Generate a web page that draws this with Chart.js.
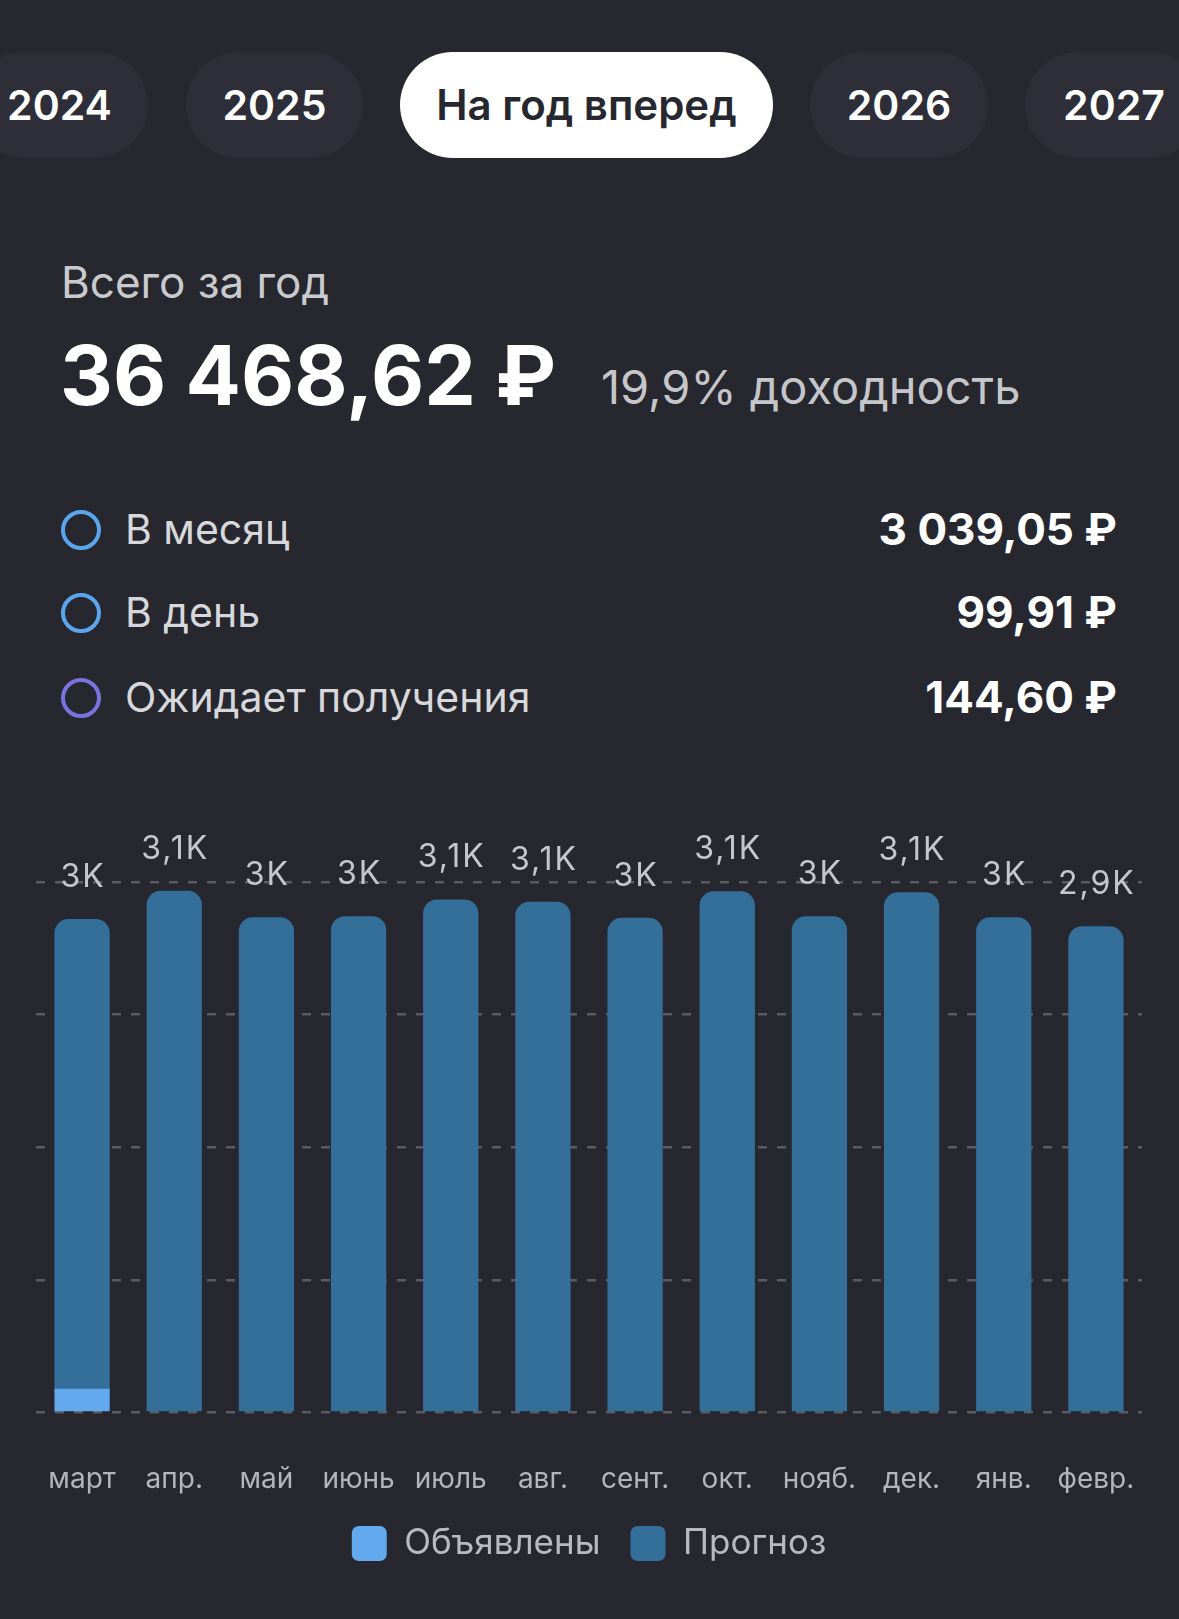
<!DOCTYPE html>
<html lang="ru">
<head>
<meta charset="utf-8">
<title>Доходность</title>
<script src="https://cdn.jsdelivr.net/npm/chart.js@4"></script>
<style>
  html, body {
    margin: 0;
    padding: 0;
    width: 1179px;
    height: 1619px;
    overflow: hidden;
    background: #26272f;
    font-family: Inter, "Noto Sans", sans-serif;
  }
  .abs { position: absolute; white-space: nowrap; }
  .pill {
    position: absolute;
    top: 52px;
    height: 106px;
    line-height: 106px;
    border-radius: 53px;
    background: #2d2e37;
    color: #ffffff;
    font-size: 41px;
    font-weight: 600;
    text-align: center;
  }
  .pill.active { background: #ffffff; color: #26272f; font-size: 42px; }
  .row-text { left: 125px; font-size: 41px; line-height: 41px; color: #d7d8db; }
  .row-val { right: 62px; font-size: 44px; line-height: 44px; font-weight: 700; color: #ffffff; }
  .dot {
    position: absolute;
    left: 61px;
    width: 32px;
    height: 32px;
    border-radius: 50%;
    border: 4px solid #5aa5ec;
  }
  #chartCanvas { position: absolute; left: 0; top: 790px; }
</style>
</head>
<body>

<div class="pill" style="left:-29px;width:177px;">2024</div>
<div class="pill" style="left:186px;width:177px;">2025</div>
<div class="pill active" style="left:400px;width:373px;">На год вперед</div>
<div class="pill" style="left:810px;width:178px;">2026</div>
<div class="pill" style="left:1025px;width:178px;">2027</div>

<div class="abs" style="left:61px;top:260px;font-size:44px;line-height:44px;color:#c9cacd;">Всего за год</div>
<div class="abs" style="left:60px;top:335px;font-size:82px;line-height:82px;font-weight:700;color:#ffffff;">36 468,62 ₽</div>
<div class="abs" style="left:601px;top:363px;font-size:47px;line-height:47px;color:#c5c6ca;">19,9% доходность</div>

<div class="dot" style="top:510px;"></div>
<div class="abs row-text" style="top:509px;">В месяц</div>
<div class="abs row-val" style="top:507px;">3 039,05 ₽</div>

<div class="dot" style="top:593px;"></div>
<div class="abs row-text" style="top:592px;">В день</div>
<div class="abs row-val" style="top:590px;">99,91 ₽</div>

<div class="dot" style="top:678px;border-color:#7b72e0;"></div>
<div class="abs row-text" style="top:677px;">Ожидает получения</div>
<div class="abs row-val" style="top:675px;">144,60 ₽</div>

<canvas id="chartCanvas" width="1179" height="829"></canvas>

<script>
// months, forward year starting in March
const months = ['март', 'апр.', 'май', 'июнь', 'июль', 'авг.', 'сент.', 'окт.', 'нояб.', 'дек.', 'янв.', 'февр.'];

// declared dividends (only March so far)
const declared = [144.6, null, null, null, null, null, null, null, null, null, null, null];

// forecast part of each month
const forecast = [2832, 3147, 2988, 2994, 3095, 3081, 2984, 3144, 2994, 3138, 2988, 2933];

const seriesNames = ['Объявлены', 'Прогноз'];

// value labels above the stacked bars: 3K, 3,1K ...
const totalLabels = {
  id: 'totalLabels',
  afterDatasetsDraw(chart) {
    const ctx = chart.ctx;
    const topMeta = chart.getDatasetMeta(chart.data.datasets.length - 1);
    ctx.save();
    ctx.font = '32px Inter, sans-serif';
    ctx.letterSpacing = '2px';
    ctx.fillStyle = '#c6c7cb';
    ctx.textAlign = 'center';
    ctx.textBaseline = 'alphabetic';
    topMeta.data.forEach((bar, i) => {
      let total = 0;
      chart.data.datasets.forEach(ds => { total += ds.data[i] || 0; });
      let txt = (total / 1000).toFixed(1).replace('.0', '').replace('.', ',') + 'K';
      ctx.fillText(txt, bar.x + 1, bar.y - 32);
    });
    ctx.restore();
  }
};

const ctx = document.getElementById('chartCanvas');
new Chart(ctx, {
  type: 'bar',
  data: {
    labels: months,
    datasets: [
      {
        label: seriesNames[0],
        data: declared,
        backgroundColor: '#63a9ee',
        borderRadius: 0,
        borderSkipped: false
      },
      {
        label: seriesNames[1],
        data: forecast,
        backgroundColor: '#336f99',
        borderRadius: { topLeft: 14, topRight: 14, bottomLeft: 0, bottomRight: 0 },
        borderSkipped: false
      }
    ]
  },
  options: {
    responsive: false,
    devicePixelRatio: 1,
    animation: false,
    layout: {
      padding: { top: 92, left: 36, right: 37, bottom: 48 }
    },
    datasets: {
      bar: { categoryPercentage: 1, barPercentage: 0.6 }
    },
    scales: {
      x: {
        stacked: true,
        // invisible tick marks only used to push labels down
        grid: {
          display: true,
          drawOnChartArea: false,
          drawTicks: true,
          tickLength: 50,
          color: 'rgba(0,0,0,0)'
        },
        border: { display: false },
        ticks: {
          color: '#b4b5ba',
          font: { family: 'Inter', size: 28 },
          padding: 0,
          maxRotation: 0,
          autoSkip: false
        }
      },
      y: {
        stacked: true,
        min: 0,
        max: 3200,
        ticks: { display: false, stepSize: 800 },
        grid: {
          color: '#5b5c63',
          lineWidth: 2.5,
          drawTicks: false
        },
        border: { display: false, dash: [9, 10] }
      }
    },
    plugins: {
      tooltip: { enabled: false },
      legend: {
        position: 'bottom',
        labels: {
          color: '#b9babe',
          font: { family: 'Inter', size: 35 },
          boxWidth: 35,
          boxHeight: 35,
          useBorderRadius: true,
          borderRadius: 7,
          padding: 30
        }
      }
    }
  },
  plugins: [totalLabels]
});
</script>
</body>
</html>
